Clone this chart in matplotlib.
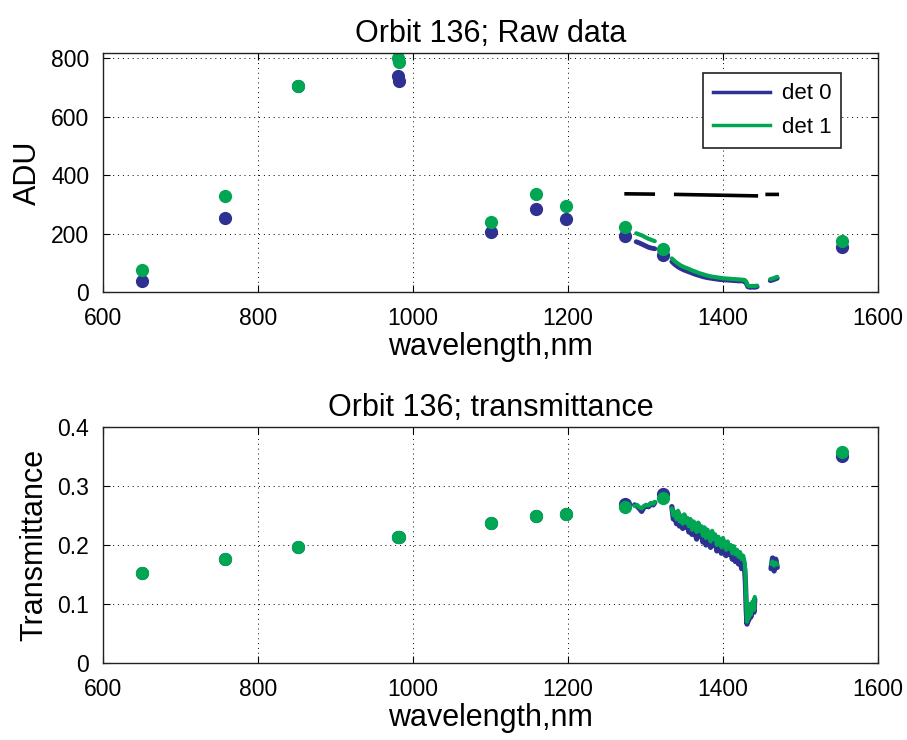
import numpy as np
import matplotlib
matplotlib.use("Agg")
import matplotlib.pyplot as plt

plt.rcParams['font.family'] = ['Liberation Sans', 'DejaVu Sans']

BLUE = '#2E3192'
GREEN = '#00A651'

# ---- isolated channel points ----
wl_pts = [650, 757, 852, 980, 982, 1100, 1159, 1197, 1273, 1322, 1554]
raw_det0_pts = [38, 253, 704, 738, 722, 205, 284, 249, 191, 126, 154]
raw_det1_pts = [75, 328, 706, 800, 788, 238, 336, 294, 222, 147, 174]
tr_det0_pts = [0.152, 0.177, 0.196, 0.214, 0.213, 0.237, 0.250, 0.252, 0.270, 0.286, 0.350]
tr_det1_pts = [0.152, 0.177, 0.196, 0.214, 0.213, 0.237, 0.250, 0.252, 0.264, 0.279, 0.358]

# ---- raw data: continuous segments ----
wl_ra = [1288, 1292, 1296, 1300, 1304, 1308, 1312]
raw_det1_a = [201, 197, 193, 187, 182, 178, 174]
raw_det0_a = [172, 168, 163, 158, 153, 150, 148]

wl_rb = [1334, 1338, 1342, 1346, 1350, 1355, 1360, 1365, 1370, 1375, 1380, 1385, 1390, 1395,
         1400, 1405, 1410, 1415, 1420, 1425, 1428, 1430, 1432, 1435, 1438, 1441, 1444]
raw_det1_b = [115, 105, 97, 90, 85, 80, 74, 69, 64, 60, 56, 53, 51, 49,
              47, 46, 45, 44, 43, 42, 41, 35, 22, 20, 21, 20, 22]
raw_det0_b = [104, 94, 86, 80, 75, 70, 65, 60, 56, 52, 49, 47, 45, 43,
              42, 41, 40, 39, 38, 38, 37, 30, 18, 16, 17, 16, 18]

wl_rc = [1461, 1464, 1467, 1470]
raw_det1_c = [44, 46, 49, 52]
raw_det0_c = [39, 41, 44, 47]

# black reference line (with gaps)
wl_ref = [1275, 1310, np.nan, 1339, 1443, np.nan, 1457, 1470]
ref_adu = [336, 335, np.nan, 334, 329, np.nan, 334, 334]

# ---- transmittance: continuous segments ----
wl_ta = [1286, 1289, 1292, 1295, 1298, 1301, 1304, 1307, 1310, 1312]
tr_det1_a = [0.266, 0.268, 0.264, 0.262, 0.266, 0.268, 0.267, 0.271, 0.270, 0.273]
tr_det0_a = [0.268, 0.266, 0.262, 0.257, 0.264, 0.267, 0.265, 0.270, 0.268, 0.272]

wl_tb = [1334, 1336, 1338, 1340, 1342, 1344, 1346, 1348, 1350, 1352, 1354, 1356, 1358, 1360,
         1362, 1364, 1366, 1368, 1370, 1372, 1374, 1376, 1378, 1380, 1382, 1384, 1386, 1388,
         1390, 1392, 1394, 1396, 1398, 1400, 1402, 1404, 1406, 1408, 1410, 1412, 1414, 1416,
         1418, 1420, 1422, 1424, 1426, 1428, 1429, 1430, 1431, 1432, 1433, 1434, 1436, 1438,
         1440, 1441]
tr_det1_b = [0.262, 0.250, 0.256, 0.244, 0.258, 0.240, 0.250, 0.236, 0.252, 0.238,
             0.246, 0.232, 0.244, 0.226, 0.240, 0.230, 0.222, 0.238, 0.224, 0.232,
             0.216, 0.230, 0.212, 0.226, 0.218, 0.206, 0.224, 0.210, 0.218, 0.200,
             0.214, 0.204, 0.196, 0.212, 0.200, 0.192, 0.206, 0.194, 0.200, 0.186,
             0.198, 0.184, 0.192, 0.180, 0.188, 0.176, 0.182, 0.170, 0.150, 0.100,
             0.070, 0.090, 0.076, 0.100, 0.082, 0.104, 0.090, 0.112]
tr_det0_b = [0.265, 0.244, 0.252, 0.236, 0.255, 0.232, 0.246, 0.228, 0.250, 0.230,
             0.242, 0.222, 0.240, 0.218, 0.238, 0.222, 0.210, 0.236, 0.215, 0.228,
             0.205, 0.228, 0.200, 0.222, 0.210, 0.196, 0.220, 0.200, 0.214, 0.190,
             0.210, 0.194, 0.186, 0.208, 0.190, 0.182, 0.202, 0.184, 0.196, 0.176,
             0.194, 0.172, 0.188, 0.168, 0.184, 0.160, 0.176, 0.158, 0.135, 0.090,
             0.066, 0.086, 0.072, 0.096, 0.078, 0.100, 0.086, 0.108]

wl_tc = [1462, 1464, 1466, 1468, 1470]
tr_det1_c = [0.168, 0.172, 0.165, 0.170, 0.167]
tr_det0_c = [0.160, 0.178, 0.156, 0.176, 0.162]

x_ticks = [600, 800, 1000, 1200, 1400, 1600]

fig = plt.figure(figsize=(9.07, 7.40), dpi=100)
ax1 = fig.add_axes([0.1136, 0.6054, 0.8544, 0.3230])
ax2 = fig.add_axes([0.1136, 0.1040, 0.8544, 0.3190])

LW = 3.0
MS = 8.5


def style(ax):
    ax.set_xlim(600, 1600)
    ax.set_xticks(x_ticks)
    ax.grid(True, linestyle=(0, (1, 4)), color='black', linewidth=0.7)
    ax.tick_params(direction='in', top=True, right=True, length=5, width=0.8,
                   labelsize=16.5)
    ax.tick_params(axis='x', pad=11)
    ax.tick_params(axis='y', pad=10)
    for s in ax.spines.values():
        s.set_linewidth(1.0)
        s.set_color('#222222')
    ax.set_xlabel('wavelength,nm', fontsize=22, labelpad=1)


# Top panel
for wl, d0, d1 in [(wl_ra, raw_det0_a, raw_det1_a), (wl_rb, raw_det0_b, raw_det1_b),
                   (wl_rc, raw_det0_c, raw_det1_c)]:
    ax1.plot(wl, d0, color=BLUE, lw=LW + 0.5, solid_capstyle='round')
    ax1.plot(wl, d1, color=GREEN, lw=LW, solid_capstyle='round')
ax1.plot(wl_pts, raw_det0_pts, 'o', color=BLUE, ms=MS, mec=BLUE)
ax1.plot(wl_pts, raw_det1_pts, 'o', color=GREEN, ms=MS, mec=GREEN)
ax1.plot(wl_ref, ref_adu, color='black', lw=2.6)
l0, = ax1.plot([], [], color=BLUE, lw=2.5, label='det 0')
l1, = ax1.plot([], [], color=GREEN, lw=2.5, label='det 1')
ax1.set_ylim(0, 818)
ax1.set_yticks([0, 200, 400, 600, 800])
style(ax1)
ax1.set_ylabel('ADU', fontsize=22, labelpad=6)
ax1.set_title('Orbit 136; Raw data', fontsize=22, pad=8)
leg = ax1.legend(handles=[l0, l1], loc='upper right', bbox_to_anchor=(0.9525, 0.915),
                 fontsize=16, frameon=True, fancybox=False, edgecolor='#222222',
                 handlelength=2.6, handletextpad=0.5, borderpad=0.45, labelspacing=0.55,
                 borderaxespad=0)
leg.get_frame().set_linewidth(1.2)
leg.get_frame().set_alpha(1)

# Bottom panel
for wl, d0, d1 in [(wl_ta, tr_det0_a, tr_det1_a), (wl_tb, tr_det0_b, tr_det1_b),
                   (wl_tc, tr_det0_c, tr_det1_c)]:
    ax2.plot(wl, d0, color=BLUE, lw=LW + 0.8, solid_capstyle='round')
    ax2.plot(wl, d1, color=GREEN, lw=LW, solid_capstyle='round')
ax2.plot(wl_pts, tr_det0_pts, 'o', color=BLUE, ms=MS, mec=BLUE)
ax2.plot(wl_pts, tr_det1_pts, 'o', color=GREEN, ms=MS, mec=GREEN)
ax2.set_ylim(0, 0.4)
ax2.set_yticks([0, 0.1, 0.2, 0.3, 0.4])
ax2.set_yticklabels(['0', '0.1', '0.2', '0.3', '0.4'])
style(ax2)
ax2.set_ylabel('Transmittance', fontsize=22, labelpad=6)
ax2.set_title('Orbit 136; transmittance', fontsize=22, pad=8)

fig.savefig('out.png', dpi=100)
